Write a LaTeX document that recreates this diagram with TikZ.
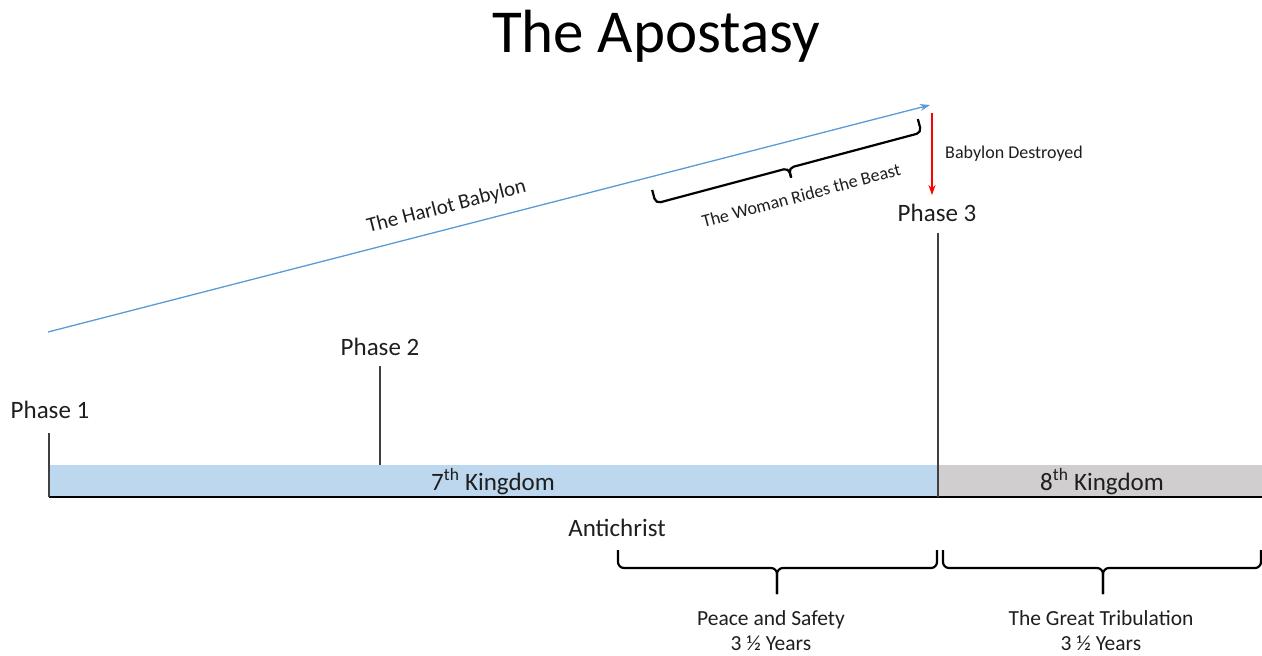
\documentclass[tikz,border=0pt]{standalone}
\usepackage{fontspec}
\setmainfont{Carlito}
\usetikzlibrary{arrows.meta}
\definecolor{harlot}{RGB}{91,155,213}
\definecolor{kingA}{RGB}{189,215,238}
\definecolor{kingB}{RGB}{208,206,206}
\definecolor{tickgray}{RGB}{64,64,64}
\definecolor{textgray}{RGB}{30,30,30}
\begin{document}
\begin{tikzpicture}[x=1pt,y=1pt,
  txt/.style={inner sep=0pt, text=textgray},
  big/.style={txt, font=\fontsize{25}{30}\selectfont},
  mid/.style={txt, font=\fontsize{21.5}{26}\selectfont},
  tickline/.style={draw=tickgray, line width=1.3pt},
  bracestyle/.style={draw=black, line width=2.2pt, rounded corners=6pt, line join=round},
  bar/.style={draw=none, inner sep=0pt, minimum height=32pt, anchor=south west}
]
\useasboundingbox (0,0) rectangle (1262,-656);

% title
\node[txt, text=black, font=\fontsize{61}{64}\selectfont, anchor=base] (title) at (656,-52) {The Apostasy};

% kingdom bars
\node[bar, fill=kingA, minimum width=889pt] (k7) at (49,-497) {};
\node[bar, fill=kingB, minimum width=324pt] (k8) at (938,-497) {};
\node[big, anchor=base] (k7t) at (493,-490) {7\textsuperscript{th} Kingdom};
\node[big, anchor=base] (k8t) at (1102,-490) {8\textsuperscript{th} Kingdom};
\draw[line width=1.5pt, black] (k7.south west) -- (k8.south east);

% phase ticks
\coordinate (p1top) at (49,-433);
\coordinate (p2top) at (380,-366);
\coordinate (p2bot) at (380,-465);
\coordinate (p3top) at (938,-233);
\draw[tickline] (p1top) -- (k7.south west);
\draw[tickline] (p2top) -- (p2bot);
\draw[tickline] (p3top) -- (k8.south west);
\node[big, anchor=base] (ph1) at (50,-418) {Phase 1};
\node[big, anchor=base] (ph2) at (380,-355) {Phase 2};
\node[big, anchor=base] (ph3) at (937,-221) {Phase 3};

% harlot arrow
\coordinate (hs) at (48,-332);
\coordinate (he) at (930,-105);
\draw[harlot, line width=1.3pt, -{Stealth[length=10pt,width=7pt]}] (hs) -- node[txt, sloped, above=12pt, pos=0.458, font=\fontsize{21}{25}\selectfont] (harlotlbl) {The Harlot Babylon} (he);

% babylon destroyed
\coordinate (rs) at (932,-113);
\coordinate (re) at (932,-195);
\draw[red, line width=1.3pt, -{Stealth[length=10pt,width=7pt]}] (rs) -- (re);
\node[txt, font=\fontsize{18}{22}\selectfont, anchor=base west] (bd) at (945,-158) {Babylon Destroyed};

% woman rides the beast brace (local frame rotated along the arrow)
\begin{scope}[shift={(785,-154.5)}, rotate=14.94]
  \coordinate (wa) at (137.5,0);
  \coordinate (wb) at (-137.5,0);
  \coordinate (wbl) at (-137.5,-14);
  \coordinate (wal) at (137.5,-14);
  \coordinate (wm) at (0,-14);
  \coordinate (wt) at (0,-24);
  \draw[bracestyle, rounded corners=5pt] (wb) -- (wbl) -- (wm) -- (wt);
  \draw[bracestyle, rounded corners=5pt] (wa) -- (wal) -- (wm) -- (wt);
  \node[txt, font=\fontsize{18}{21}\selectfont, anchor=base, transform shape] (woman) at (5,-50) {The Woman Rides the Beast};
\end{scope}

% antichrist
\node[big, anchor=base] (anti) at (617,-536) {Antichrist};

% bottom braces
\coordinate (b1a) at (937,-550);
\coordinate (b1b) at (618,-550);
\coordinate (b1m) at (777,-568);
\coordinate (b1t) at (777,-594);
\coordinate (b2a) at (1261,-550);
\coordinate (b2b) at (943,-550);
\coordinate (b2m) at (1103,-568);
\coordinate (b2t) at (1103,-594);
\draw[bracestyle] (b1b) |- (b1m) -- (b1t);
\draw[bracestyle] (b1a) |- (b1m) -- (b1t);
\draw[bracestyle] (b2b) |- (b2m) -- (b2t);
\draw[bracestyle] (b2a) |- (b2m) -- (b2t);
\node[mid, anchor=base] (ps1) at (771,-625) {Peace and Safety};
\node[mid, anchor=base] (ps2) at (771,-650) {3 ½ Years};
\node[mid, anchor=base] (gt1) at (1101,-625) {The Great Tribulation};
\node[mid, anchor=base] (gt2) at (1101,-650) {3 ½ Years};
\end{tikzpicture}
\end{document}
